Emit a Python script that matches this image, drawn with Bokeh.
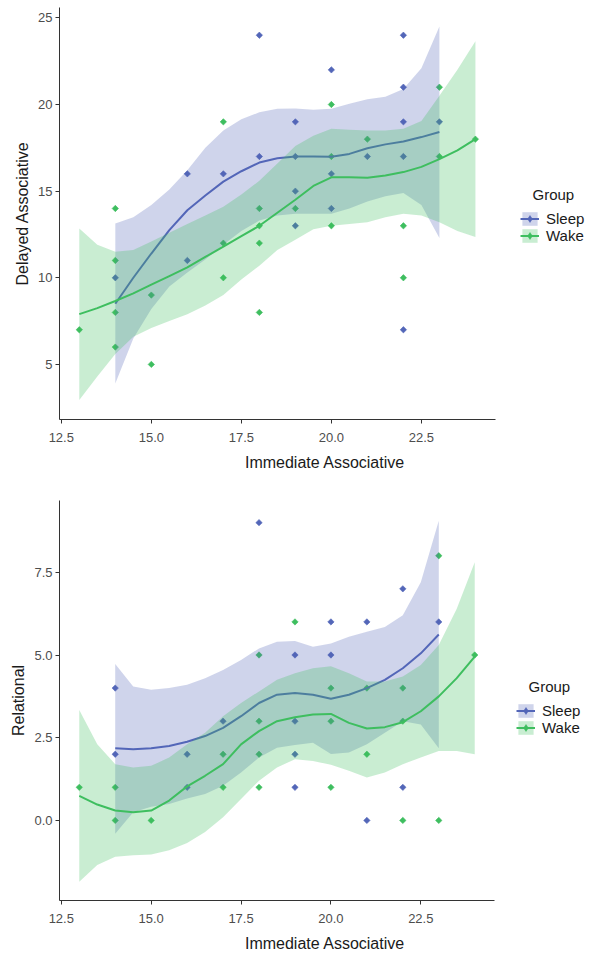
import numpy as np
from bokeh.plotting import figure
from bokeh.models import Range1d, FixedTicker, NumeralTickFormatter, Legend, LegendItem
from bokeh.layouts import column
from bokeh.embed import file_html
from bokeh.resources import INLINE

# ---------------- data ----------------
groups = ["Sleep", "Wake"]
sleep_color = "#5366B8"
wake_color = "#3EBE5F"

x_ticks = [12.5, 15.0, 17.5, 20.0, 22.5]
delayed_ticks = [5, 10, 15, 20, 25]
relational_ticks = [0.0, 2.5, 5.0, 7.5]

# Panel 1: Delayed Associative vs Immediate Associative
d_sleep_x = [14, 16, 16, 17, 18, 18, 19, 19, 19, 19, 20, 20, 20, 21, 22, 22, 22, 22, 22, 23]
d_sleep_y = [10, 16, 11, 16, 24, 17, 19, 17, 15, 13, 22, 16, 14, 17, 24, 21, 19, 17, 7, 19]
d_wake_x = [13, 14, 14, 14, 14, 15, 15, 17, 17, 17, 18, 18, 18, 18, 19, 20, 20, 20, 21, 22, 22, 23, 23, 24]
d_wake_y = [7, 14, 11, 8, 6, 9, 5, 19, 12, 10, 14, 13, 12, 8, 14, 20, 17, 13, 18, 13, 10, 21, 17, 18]

# Panel 2: Relational vs Immediate Associative
r_sleep_x = [14, 14, 16, 16, 17, 18, 19, 19, 19, 19, 20, 20, 21, 21, 22, 22, 23]
r_sleep_y = [4, 2, 2, 1, 3, 9, 5, 3, 2, 1, 6, 5, 6, 0, 7, 1, 6]
r_wake_x = [13, 14, 14, 15, 17, 17, 18, 18, 18, 18, 19, 20, 20, 20, 21, 21, 22, 22, 22, 23, 23, 24]
r_wake_y = [1, 1, 0, 0, 2, 1, 5, 3, 2, 1, 6, 4, 3, 1, 4, 2, 4, 3, 0, 8, 0, 5]

# loess smooths (fit, lower, upper)
sleep_grid = [14, 14.5, 15, 15.5, 16, 16.5, 17, 17.5, 18, 18.5, 19, 19.5, 20, 20.5, 21, 21.5, 22, 22.5, 23]
wake_grid = [13, 13.5, 14, 14.5, 15, 15.5, 16, 16.5, 17, 17.5, 18, 18.5, 19, 19.5, 20, 20.5, 21, 21.5, 22, 22.5, 23, 23.5, 24]

d_sleep_fit = [8.5, 10.0, 11.4, 12.75, 13.9, 14.75, 15.55, 16.15, 16.65, 16.9, 17.0, 17.0, 16.98, 17.15, 17.48, 17.7, 17.87, 18.12, 18.41]
d_sleep_upper = [13.14, 13.5, 14.2, 15.1, 16.2, 17.5, 18.5, 19.15, 19.55, 19.75, 19.77, 19.7, 19.75, 20.05, 20.3, 20.45, 20.9, 22.1, 24.5]
d_sleep_lower = [3.9, 6.5, 8.2, 9.5, 10.3, 11.05, 11.9, 12.7, 13.3, 13.6, 13.7, 13.7, 13.7, 14.0, 14.4, 14.7, 14.9, 14.2, 12.3]

d_wake_fit = [7.9, 8.25, 8.66, 9.1, 9.6, 10.1, 10.6, 11.2, 11.8, 12.4, 13.0, 13.75, 14.5, 15.3, 15.8, 15.8, 15.78, 15.9, 16.1, 16.4, 16.85, 17.35, 18.0]
d_wake_upper = [12.85, 11.9, 11.5, 11.6, 12.1, 12.6, 13.1, 13.6, 14.1, 14.8, 15.6, 16.6, 17.6, 18.2, 18.6, 18.55, 18.5, 18.5, 18.6, 19.05, 20.5, 22.0, 23.65]
d_wake_lower = [2.95, 4.3, 5.6, 6.6, 7.1, 7.5, 7.9, 8.4, 9.0, 9.9, 10.7, 11.6, 12.2, 12.8, 13.0, 13.1, 13.2, 13.5, 13.7, 13.6, 13.2, 12.7, 12.35]

r_sleep_fit = [2.18, 2.15, 2.18, 2.25, 2.38, 2.55, 2.8, 3.15, 3.55, 3.8, 3.85, 3.8, 3.68, 3.8, 4.0, 4.25, 4.6, 5.05, 5.62]
r_sleep_upper = [4.73, 4.05, 3.95, 4.0, 4.1, 4.3, 4.55, 4.85, 5.2, 5.4, 5.42, 5.25, 5.35, 5.55, 5.7, 5.85, 6.2, 7.2, 9.06]
r_sleep_lower = [-0.4, 0.25, 0.41, 0.5, 0.66, 0.8, 1.05, 1.45, 1.9, 2.2, 2.28, 2.35, 2.01, 2.05, 2.3, 2.65, 3.0, 2.9, 2.18]

r_wake_fit = [0.74, 0.48, 0.3, 0.25, 0.3, 0.6, 1.03, 1.35, 1.7, 2.3, 2.7, 3.0, 3.12, 3.2, 3.22, 2.95, 2.78, 2.82, 2.97, 3.3, 3.75, 4.3, 4.95]
r_wake_upper = [3.34, 2.3, 1.7, 1.6, 1.65, 1.9, 2.3, 2.65, 3.15, 3.55, 3.9, 4.25, 4.45, 4.6, 4.66, 4.45, 4.2, 4.2, 4.35, 4.7, 5.3, 6.4, 7.8]
r_wake_lower = [-1.85, -1.35, -1.1, -1.05, -1.03, -0.9, -0.68, -0.35, 0.1, 0.65, 1.2, 1.6, 1.85, 1.8, 1.68, 1.5, 1.3, 1.45, 1.7, 1.9, 2.1, 2.1, 2.0]

FONT = "Liberation Sans"
FIG_W = 590
X0, X1 = 12.45, 24.55


def make_panel(y_label, y_ticks, y_fmt, y_range, height, border_left, data_px,
               border_top, border_bottom, pts, smooths, legend_drop):
    # the plotting frame runs to the right edge so the legend can sit in it;
    # the x axis line is bounded to the data range
    frame_w = FIG_W - border_left
    x_end = X0 + (X1 - X0) * frame_w / data_px
    frame_h = height - border_top - border_bottom
    p = figure(width=FIG_W, height=height, output_backend="svg", toolbar_location=None,
               x_range=Range1d(X0, x_end), y_range=Range1d(*y_range),
               min_border_left=border_left, min_border_right=0,
               min_border_top=border_top, min_border_bottom=border_bottom)
    p.outline_line_color = None
    p.grid.visible = False
    p.background_fill_color = "white"
    p.border_fill_color = "white"

    for ax in (p.xaxis[0], p.yaxis[0]):
        ax.axis_line_color = "#333333"
        ax.axis_line_width = 1
        ax.major_tick_line_color = "#333333"
        ax.major_tick_out = 4
        ax.major_tick_in = 0
        ax.minor_tick_line_color = None
        ax.major_label_text_font = FONT
        ax.major_label_text_font_size = "13px"
        ax.major_label_text_color = "#4D4D4D"
        ax.axis_label_text_font = FONT
        ax.axis_label_text_font_size = "16px"
        ax.axis_label_text_font_style = "normal"
        ax.axis_label_text_color = "#1A1A1A"

    p.xaxis.bounds = (X0, X1)
    p.xaxis.ticker = FixedTicker(ticks=x_ticks)
    p.xaxis.formatter = NumeralTickFormatter(format="0.0")
    p.xaxis.axis_label = "Immediate Associative"
    p.xaxis.major_label_standoff = 9
    p.xaxis.axis_label_standoff = 9
    p.yaxis.ticker = FixedTicker(ticks=y_ticks)
    p.yaxis.formatter = NumeralTickFormatter(format=y_fmt)
    p.yaxis.axis_label = y_label
    p.yaxis.major_label_standoff = 3
    p.yaxis.axis_label_standoff = 4

    (sx, sy), (wx, wy) = pts
    p.scatter(sx, sy, marker="square", angle=np.pi / 4, size=4.5,
              fill_color=sleep_color, line_color=sleep_color, line_width=0.6)
    p.scatter(wx, wy, marker="square", angle=np.pi / 4, size=4.5,
              fill_color=wake_color, line_color=wake_color, line_width=0.6)

    items = []
    for name, color, grid, (fit, lo, up) in zip(groups, [sleep_color, wake_color],
                                                [sleep_grid, wake_grid], smooths):
        rib = p.varea(x=grid, y1=lo, y2=up, fill_color=color, fill_alpha=0.28)
        ln = p.line(x=grid, y=fit, line_color=color, line_width=2)
        key_pt = p.scatter([np.nan], [np.nan], marker="diamond", size=6.5,
                           fill_color=color, line_color=color, line_width=0.6)
        items.append(LegendItem(label=name, renderers=[rib, ln, key_pt]))

    legend_x = 516 - border_left
    legend_y = frame_h / 2 - 30 - legend_drop
    legend = Legend(items=items, location=(legend_x, legend_y),
                    title="\u00a0\u00a0\u00a0Group",
                    title_text_font=FONT, title_text_font_size="15px",
                    title_text_font_style="normal", title_text_color="#1A1A1A",
                    title_standoff=7,
                    label_text_font=FONT, label_text_font_size="15px",
                    label_text_color="#1A1A1A", label_standoff=7,
                    glyph_width=19, glyph_height=17, label_height=17,
                    spacing=0, padding=0, margin=0,
                    border_line_color=None, background_fill_alpha=0)
    p.add_layout(legend)
    return p


p1 = make_panel("Delayed Associative", delayed_ticks, "0", (1.82, 25.6),
                482, 55, 439, 7, 63,
                ((d_sleep_x, d_sleep_y), (d_wake_x, d_wake_y)),
                [(d_sleep_fit, d_sleep_lower, d_sleep_upper),
                 (d_wake_fit, d_wake_lower, d_wake_upper)], 1)

p2 = make_panel("Relational", relational_ticks, "0.0", (-2.42, 9.67),
                474, 59, 435, 18, 56,
                ((r_sleep_x, r_sleep_y), (r_wake_x, r_wake_y)),
                [(r_sleep_fit, r_sleep_lower, r_sleep_upper),
                 (r_wake_fit, r_wake_lower, r_wake_upper)], 6)

layout = column(p1, p2, spacing=0)
open("out.html", "w").write(file_html(layout, INLINE))
